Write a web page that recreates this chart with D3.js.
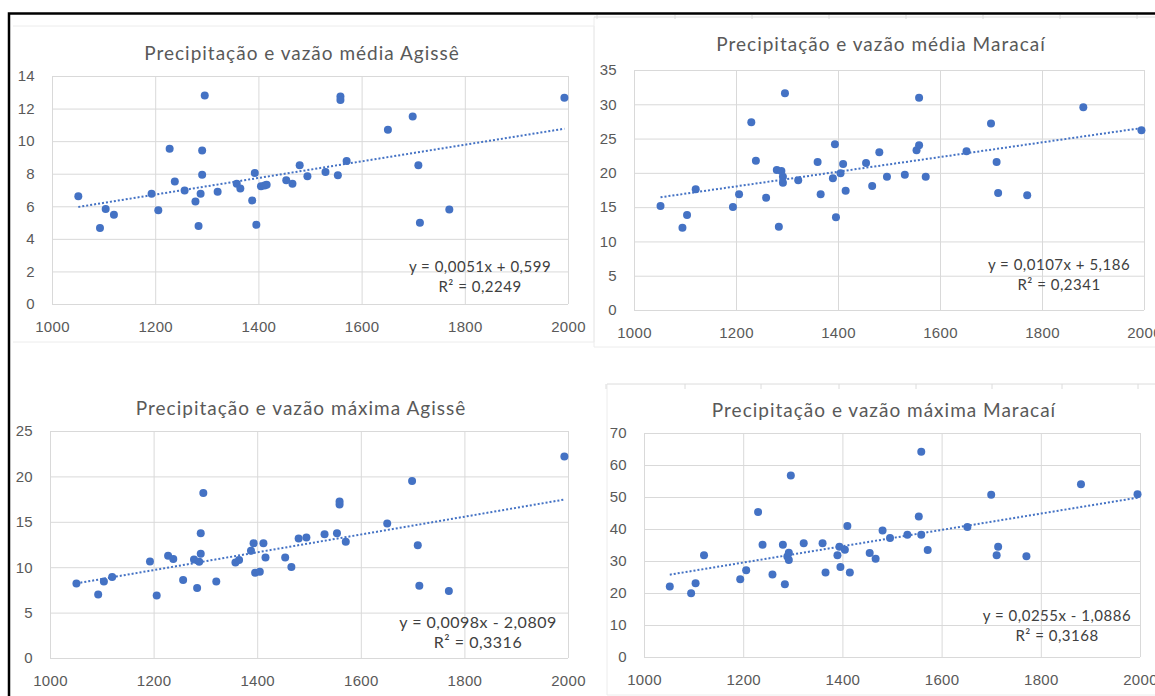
<!DOCTYPE html>
<html>
<head>
<meta charset="utf-8">
<script src="https://cdn.jsdelivr.net/npm/d3@7"></script>
<style>
  body { margin: 0; background: #fff; }
  svg { display: block; font-family: Lato, "Open Sans", sans-serif; }
  .tick line { stroke: #d9d9d9; }
  .tick text { fill: #595959; font-size: 15px; letter-spacing: 0.3px; }
</style>
</head>
<body>
<svg id="chart" width="1155" height="696"></svg>
<script>
// precipitation (x) and discharge (y) per station
const precipAgisse = [1051, 1093, 1104, 1120, 1193, 1206, 1228, 1238, 1257, 1278, 1284, 1288, 1291, 1291, 1296, 1321, 1358, 1365, 1388, 1393, 1396, 1405, 1412, 1416, 1454, 1466, 1480, 1495, 1530, 1554, 1559, 1559, 1571, 1651, 1699, 1710, 1713, 1770, 1993];
const vazaoMediaAgisse = [6.62, 4.67, 5.83, 5.48, 6.77, 5.75, 9.54, 7.52, 6.97, 6.30, 4.79, 6.77, 7.93, 9.42, 12.80, 6.89, 7.38, 7.09, 6.36, 8.05, 4.87, 7.23, 7.28, 7.32, 7.60, 7.38, 8.52, 7.85, 8.11, 7.91, 12.74, 12.53, 8.78, 10.70, 11.51, 8.52, 4.99, 5.81, 12.66];
const vazaoMaximaAgisse = [8.21, 7.00, 8.43, 8.91, 10.63, 6.89, 11.25, 10.89, 8.58, 10.85, 7.70, 10.59, 11.47, 13.75, 18.18, 8.43, 10.52, 10.78, 11.80, 12.65, 9.38, 9.49, 12.65, 11.07, 11.07, 10.01, 13.16, 13.27, 13.64, 13.75, 17.23, 16.90, 12.79, 14.81, 19.50, 12.43, 7.95, 7.37, 22.18];

const precipMaracai = [1052, 1095, 1104, 1121, 1194, 1206, 1230, 1239, 1259, 1280, 1284, 1289, 1292, 1292, 1296, 1322, 1360, 1366, 1390, 1394, 1396, 1405, 1410, 1415, 1455, 1467, 1481, 1496, 1531, 1554, 1559, 1559, 1572, 1652, 1700, 1711, 1714, 1771, 1881, 1995];
const vazaoMediaMaracai = [15.17, 12.01, 13.86, 17.60, 15.02, 16.87, 27.37, 21.78, 16.38, 20.42, 12.15, 20.27, 19.45, 18.57, 31.60, 18.91, 21.58, 16.87, 19.20, 24.16, 13.51, 19.93, 21.29, 17.40, 21.44, 18.08, 22.99, 19.45, 19.74, 23.29, 24.02, 30.97, 19.45, 23.14, 27.18, 21.58, 17.06, 16.72, 29.56, 26.20];
const vazaoMaximaMaracai = [22.01, 19.94, 23.05, 31.78, 24.30, 27.10, 45.28, 35.10, 25.75, 35.10, 22.74, 31.40, 32.61, 30.32, 56.70, 35.51, 35.51, 26.38, 31.78, 34.48, 28.14, 33.54, 40.91, 26.38, 32.50, 30.74, 39.56, 37.18, 38.21, 43.93, 38.21, 64.17, 33.44, 40.60, 50.67, 31.78, 34.48, 31.46, 54.00, 50.88];

const titles = [
  "Precipitação e vazão média Agissê",
  "Precipitação e vazão média Maracaí",
  "Precipitação e vazão máxima Agissê",
  "Precipitação e vazão máxima Maracaí"
];
const equations = ["y = 0,0051x + 0,599", "y = 0,0107x + 5,186", "y = 0,0098x - 2,0809", "y = 0,0255x - 1,0886"];
const r2Labels = ["R² = 0,2249", "R² = 0,2341", "R² = 0,3316", "R² = 0,3168"];
const slopes = [0.0051, 0.0107, 0.0098, 0.0255];
const intercepts = [0.599, 5.186, -2.0809, -1.0886];
const yMaxes = [14, 35, 25, 70];
const ySteps = [2, 5, 5, 10];
const xTicks = [1000, 1200, 1400, 1600, 1800, 2000];

const xs = [precipAgisse, precipMaracai, precipAgisse, precipMaracai];
const ys = [vazaoMediaAgisse, vazaoMediaMaracai, vazaoMaximaAgisse, vazaoMaximaMaracai];

// screen layout of each pasted chart
const layout = [
  {left: 52, right: 568, top: 76, bottom: 304, titleX: 302, titleY: 52, eqX: 480, eqY: 266, eqSize: 15},
  {left: 634, right: 1144, top: 70, bottom: 310, titleX: 881, titleY: 43, eqX: 1059, eqY: 264, eqSize: 15},
  {left: 50, right: 568, top: 431, bottom: 658, titleX: 301, titleY: 407, eqX: 478, eqY: 621, eqSize: 16},
  {left: 644, right: 1140, top: 433, bottom: 657, titleX: 884, titleY: 409, eqX: 1057, eqY: 615, eqSize: 15}
];

const svg = d3.select('#chart');
const blue = '#4472c4';

// faint chart-area edges from the screenshots
const faint = svg.append('g').attr('stroke', '#ececec').attr('fill', 'none');
faint.append('path').attr('d', 'M13,26H594V342H13');
faint.append('path').attr('d', 'M594,17V347H1155');
faint.append('path').attr('d', 'M607,384V695H1155');
faint.append('path').attr('d', 'M594,17H1155M607,384H1155').attr('stroke', '#dcdcdc');
[597, 675, 752, 829, 906, 983, 1060, 1137].forEach(x => {
  faint.append('line').attr('x1', x).attr('x2', x).attr('y1', 15).attr('y2', 19).attr('stroke', '#dcdcdc');
});
[606, 685, 761, 839, 916, 992, 1062, 1138].forEach(x => {
  faint.append('line').attr('x1', x).attr('x2', x).attr('y1', 384).attr('y2', 389).attr('stroke', '#dcdcdc');
});

layout.forEach((L, i) => {
  const w = L.right - L.left, h = L.bottom - L.top;
  const x = d3.scaleLinear().domain([1000, 2000]).range([L.left, L.right]);
  const y = d3.scaleLinear().domain([0, yMaxes[i]]).range([L.bottom, L.top]);
  const g = svg.append('g');

  g.append('text')
    .attr('x', L.titleX).attr('y', L.titleY)
    .attr('text-anchor', 'middle').attr('dominant-baseline', 'central')
    .style('font-size', '19px').style('letter-spacing', '1px').style('fill', '#595959')
    .text(titles[i]);

  const yAxis = g.append('g')
    .attr('transform', `translate(${L.left},0)`)
    .call(d3.axisLeft(y).tickValues(d3.range(0, yMaxes[i] + 1e-9, ySteps[i]))
      .tickSize(-w).tickSizeOuter(0).tickPadding(17));
  yAxis.select('.domain').remove();

  const xAxis = g.append('g')
    .attr('transform', `translate(0,${L.bottom})`)
    .call(d3.axisBottom(x).tickValues(xTicks).tickFormat(d3.format('d'))
      .tickSize(-h).tickSizeOuter(0).tickPadding(17));
  xAxis.select('.domain').remove();

  const pts = xs[i].map((v, k) => [v, ys[i][k]]);
  const ext = d3.extent(xs[i]);

  g.append('line')
    .attr('x1', x(ext[0])).attr('y1', y(slopes[i] * ext[0] + intercepts[i]))
    .attr('x2', x(ext[1])).attr('y2', y(slopes[i] * ext[1] + intercepts[i]))
    .attr('stroke', blue).attr('stroke-width', 2)
    .attr('stroke-dasharray', '2,2');

  g.selectAll('circle')
    .data(pts)
    .join('circle')
    .attr('cx', d => x(d[0]))
    .attr('cy', d => y(d[1]))
    .attr('r', 4)
    .attr('fill', blue);

  [equations[i], r2Labels[i]].forEach((t, k) => {
    g.append('text')
      .attr('x', L.eqX).attr('y', L.eqY + 20 * k)
      .attr('text-anchor', 'middle').attr('dominant-baseline', 'central')
      .style('font-size', L.eqSize + 'px').style('letter-spacing', '0.5px').style('fill', '#404040')
      .text(t);
  });
});

// black frame of the composite image
svg.append('path')
  .attr('d', 'M9,696V13.5H1155')
  .attr('fill', 'none').attr('stroke', '#000').attr('stroke-width', 2.5);
</script>
</body>
</html>
